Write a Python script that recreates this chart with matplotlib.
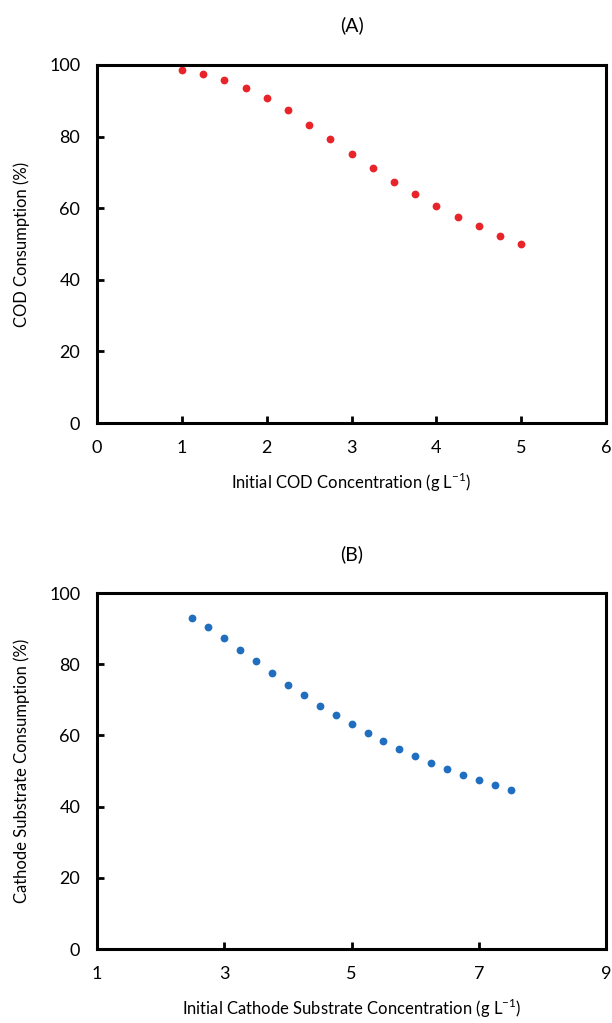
import matplotlib.pyplot as plt
import numpy as np

plt.rcParams['font.family'] = ['Lato', 'DejaVu Sans']
plt.rcParams['mathtext.fontset'] = 'custom'
plt.rcParams['mathtext.rm'] = 'Lato'

# panel A data
cod_conc = [1.0, 1.25, 1.5, 1.75, 2.0, 2.25, 2.5, 2.75, 3.0, 3.25, 3.5, 3.75,
            4.0, 4.25, 4.5, 4.75, 5.0]
cod_cons = [98.5, 97.4, 95.9, 93.7, 90.7, 87.3, 83.3, 79.2, 75.2, 71.2, 67.4,
            63.9, 60.6, 57.5, 55.0, 52.3, 50.1]

# panel B data
cath_conc = [2.5, 2.75, 3.0, 3.25, 3.5, 3.75, 4.0, 4.25, 4.5, 4.75, 5.0, 5.25,
             5.5, 5.75, 6.0, 6.25, 6.5, 6.75, 7.0, 7.25, 7.5]
cath_cons = [93.1, 90.4, 87.4, 84.1, 80.8, 77.5, 74.3, 71.3, 68.4, 65.6, 63.1,
             60.6, 58.4, 56.3, 54.3, 52.3, 50.7, 49.0, 47.5, 46.0, 44.6]

fig = plt.figure(figsize=(6.12, 10.23), dpi=100)
ax1 = fig.add_axes([0.1585, 0.5865, 0.832, 0.35])
ax2 = fig.add_axes([0.1585, 0.0723, 0.832, 0.348])


def style(ax):
    for s in ax.spines.values():
        s.set_linewidth(2.2)
    ax.tick_params(direction='in', length=5, width=2, labelsize=13, pad=12)


ax1.plot(cod_conc, cod_cons, 'o', color='#e8232a', markersize=5.6, markeredgewidth=0)
ax1.set_xlim(0, 6)
ax1.set_ylim(0, 100)
ax1.set_xticks(np.arange(0, 7, 1))
ax1.set_yticks(np.arange(0, 101, 20))
ax1.set_xlabel('Initial COD Concentration (g L$^{\\mathregular{-1}}$)', fontsize=12, labelpad=11)
ax1.set_ylabel('COD Consumption (%)', fontsize=12, labelpad=14)
ax1.set_title('(A)', fontsize=14, pad=24)
style(ax1)

ax2.plot(cath_conc, cath_cons, 'o', color='#1f6ebf', markersize=5.6, markeredgewidth=0)
ax2.set_xlim(1, 9)
ax2.set_ylim(0, 100)
ax2.set_xticks(np.arange(1, 10, 2))
ax2.set_yticks(np.arange(0, 101, 20))
ax2.set_xlabel('Initial Cathode Substrate Concentration (g L$^{\\mathregular{-1}}$)', fontsize=12, labelpad=11)
ax2.set_ylabel('Cathode Substrate Consumption (%)', fontsize=12, labelpad=14)
ax2.set_title('(B)', fontsize=14, pad=24)
style(ax2)

fig.savefig('out.png', dpi=100)
